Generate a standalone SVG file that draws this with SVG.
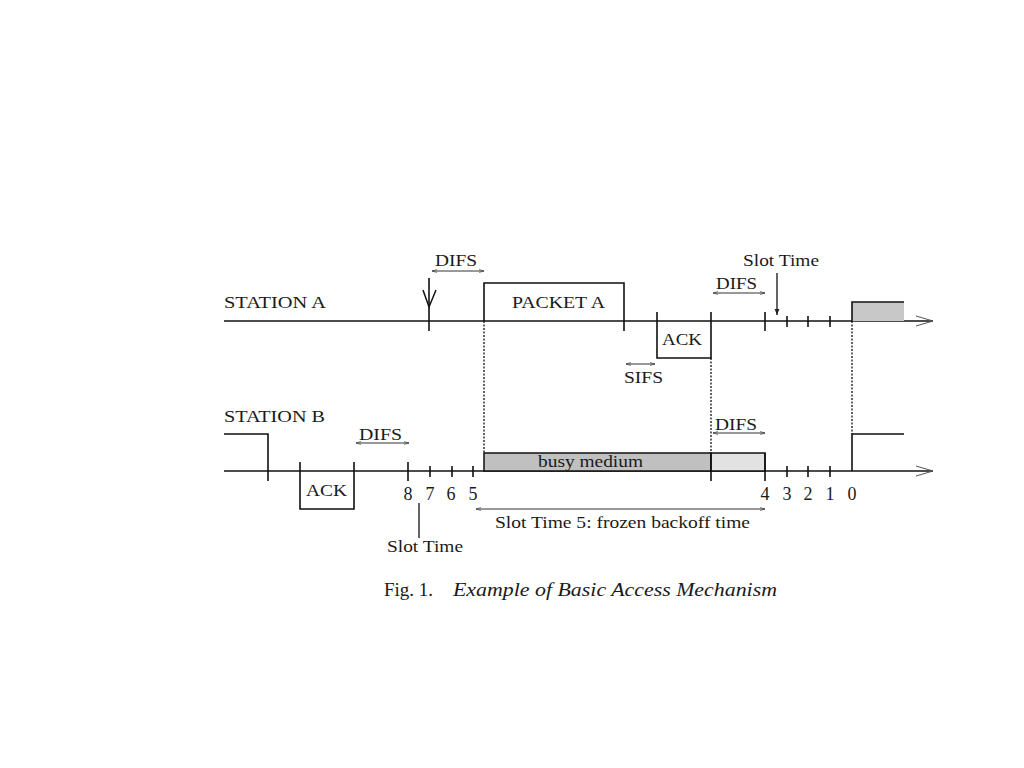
<svg xmlns="http://www.w3.org/2000/svg" width="1024" height="768" viewBox="0 0 1024 768">
<defs>
<marker id="ah" viewBox="0 0 10 10" refX="10" refY="5" markerWidth="7" markerHeight="5" orient="auto-start-reverse" markerUnits="userSpaceOnUse">
<path d="M0,2 L10,5 L0,8" fill="none" stroke="#333" stroke-width="1.2"/>
</marker>
<marker id="dn" viewBox="0 0 10 10" refX="10" refY="5" markerWidth="8" markerHeight="6" orient="auto" markerUnits="userSpaceOnUse">
<path d="M0,1 L10,5 L0,9 Z" fill="#222"/>
</marker>
<style>
.t{font-family:"Liberation Serif","Times New Roman",serif;font-size:17px;fill:#1a1a1a}
.n{font-family:"Liberation Serif","Times New Roman",serif;font-size:18px;fill:#1a1a1a;text-anchor:middle}
.ln{stroke:#111;stroke-width:1.6;fill:none}
.tk{stroke:#111;stroke-width:1.6}
.dot{stroke:#111;stroke-width:1.3;stroke-dasharray:2,1.5;fill:none}
.da{stroke:#333;stroke-width:1;fill:none;marker-start:url(#ah);marker-end:url(#ah)}
.cap{font-family:"Liberation Serif","Times New Roman",serif;font-size:19px;fill:#1a1a1a}
</style>
</defs>
<rect width="1024" height="768" fill="#fff"/>

<g id="stationA">
<text class="t" x="224" y="308" textLength="102" lengthAdjust="spacingAndGlyphs">STATION A</text>
<line class="ln" x1="224" y1="321" x2="933" y2="321"/>
<path d="M916,316 L933,321 L916,326" fill="none" stroke="#555" stroke-width="1"/>
</g>

<g id="difsA1">
<line class="tk" x1="429" y1="278" x2="429" y2="331"/>
<path d="M423,290 L429,307 L436,290" fill="none" stroke="#111" stroke-width="1.5"/>
<text class="t" x="435" y="266" textLength="42" lengthAdjust="spacingAndGlyphs">DIFS</text>
<line class="da" x1="432" y1="271" x2="484" y2="271"/>
</g>

<g id="packetA">
<path class="ln" d="M484,321 L484,283 L624,283 L624,331"/>
<text class="t" x="512" y="308" textLength="93" lengthAdjust="spacingAndGlyphs">PACKET A</text>
</g>

<g id="ackA">
<path class="ln" d="M657,312 L657,358 L711,358 L711,312"/>
<text class="t" x="662" y="345" textLength="40" lengthAdjust="spacingAndGlyphs">ACK</text>
</g>

<g id="sifs">
<line class="da" x1="626" y1="364" x2="655" y2="364"/>
<text class="t" x="624" y="383" textLength="39" lengthAdjust="spacingAndGlyphs">SIFS</text>
</g>

<g id="difsA2">
<text class="t" x="716" y="289" textLength="41" lengthAdjust="spacingAndGlyphs">DIFS</text>
<line class="da" x1="713" y1="293" x2="765" y2="293"/>
<line class="tk" x1="765" y1="312" x2="765" y2="331"/>
</g>

<g id="slotTimeA">
<text class="t" x="743" y="266" textLength="76" lengthAdjust="spacingAndGlyphs">Slot Time</text>
<line x1="777" y1="273" x2="777" y2="315" stroke="#111" stroke-width="1.3" marker-end="url(#dn)"/>
<line class="tk" x1="787" y1="316" x2="787" y2="327"/>
<line class="tk" x1="808" y1="316" x2="808" y2="327"/>
<line class="tk" x1="830" y1="316" x2="830" y2="327"/>
</g>

<g id="txA">
<rect x="852" y="302" width="52" height="19" fill="#c8c8c8" stroke="none"/>
<path class="ln" d="M852,321 L852,302 L904,302"/>
</g>

<g id="stationB">
<text class="t" x="224" y="422" textLength="101" lengthAdjust="spacingAndGlyphs">STATION B</text>
<path class="ln" d="M224,434 L268,434 L268,481"/>
<line class="ln" x1="224" y1="471" x2="933" y2="471"/>
<path d="M916,466 L933,471 L916,476" fill="none" stroke="#555" stroke-width="1"/>
</g>

<g id="ackB">
<path class="ln" d="M300,462 L300,509 L354,509 L354,462"/>
<text class="t" x="306" y="496" textLength="41" lengthAdjust="spacingAndGlyphs">ACK</text>
</g>

<g id="difsB1">
<text class="t" x="359" y="440" textLength="43" lengthAdjust="spacingAndGlyphs">DIFS</text>
<line class="da" x1="356" y1="443" x2="409" y2="443"/>
<line class="tk" x1="408" y1="462" x2="408" y2="481"/>
<line class="tk" x1="430" y1="466" x2="430" y2="477"/>
<line class="tk" x1="452" y1="466" x2="452" y2="477"/>
<line class="tk" x1="473" y1="466" x2="473" y2="477"/>
<text class="n" x="408" y="500">8</text>
<text class="n" x="430" y="500">7</text>
<text class="n" x="451" y="500">6</text>
<text class="n" x="473" y="500">5</text>
</g>

<g id="slotTimeB">
<line x1="419" y1="538" x2="419" y2="503" stroke="#111" stroke-width="1.3"/>
<text class="t" x="387" y="552" textLength="76" lengthAdjust="spacingAndGlyphs">Slot Time</text>
</g>

<g id="busy">
<rect x="484" y="453" width="227" height="18" fill="#c0c0c0" stroke="#111" stroke-width="1.5"/>
<text class="t" x="538" y="467" textLength="105" lengthAdjust="spacingAndGlyphs">busy medium</text>
<rect x="711" y="453" width="54" height="18" fill="#e2e2e2" stroke="#111" stroke-width="1.5"/>
<line class="tk" x1="711" y1="453" x2="711" y2="481"/>
<line class="tk" x1="765" y1="453" x2="765" y2="481"/>
</g>

<g id="difsB2">
<text class="t" x="715" y="430" textLength="42" lengthAdjust="spacingAndGlyphs">DIFS</text>
<line class="da" x1="713" y1="433" x2="765" y2="433"/>
</g>

<g id="countB">
<line class="tk" x1="787" y1="466" x2="787" y2="477"/>
<line class="tk" x1="808" y1="466" x2="808" y2="477"/>
<line class="tk" x1="830" y1="466" x2="830" y2="477"/>
<text class="n" x="765" y="500">4</text>
<text class="n" x="787" y="500">3</text>
<text class="n" x="808" y="500">2</text>
<text class="n" x="830" y="500">1</text>
<text class="n" x="852" y="500">0</text>
</g>

<g id="txB">
<path class="ln" d="M852,471 L852,434 L904,434"/>
</g>

<g id="frozen">
<line class="da" x1="476" y1="509" x2="765" y2="509"/>
<text class="t" x="495" y="528" textLength="255" lengthAdjust="spacingAndGlyphs">Slot Time 5: frozen backoff time</text>
</g>

<g id="connectors">
<line class="dot" x1="484" y1="321" x2="484" y2="453"/>
<line class="dot" x1="711" y1="358" x2="711" y2="453"/>
<line class="dot" x1="852" y1="321" x2="852" y2="434"/>
</g>

<g id="caption">
<text class="cap" x="384" y="596">Fig. 1.</text>
<text class="cap" x="453" y="596" font-style="italic" textLength="324" lengthAdjust="spacingAndGlyphs">Example of Basic Access Mechanism</text>
</g>
</svg>
